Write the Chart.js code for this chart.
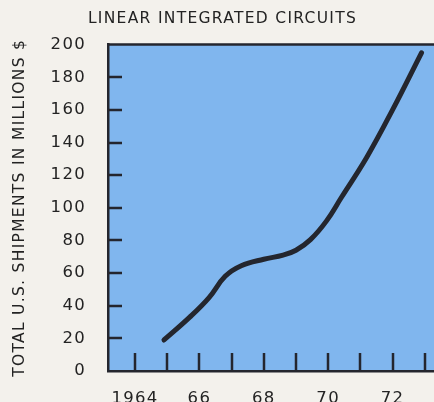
<!DOCTYPE html>
<html>
<head>
<meta charset="utf-8">
<title>Linear integrated circuits</title>
<script src="https://cdn.jsdelivr.net/npm/chart.js@4.4.1/dist/chart.umd.min.js"></script>
<style>
  html, body { margin: 0; padding: 0; background: #f3f1ec; overflow: hidden; }
  #wrap { width: 434px; height: 402px; overflow: hidden; }
</style>
</head>
<body>
<div id="wrap"><canvas id="chart" width="470" height="402"></canvas></div>
<script>
// shipments curve (year, $ millions)
const years     = [1964.9, 1965.7, 1966.3, 1966.8, 1967.3, 1968.0, 1968.6, 1969.0, 1969.45, 1969.95, 1970.4, 1971.2, 1972.0, 1972.9];
const shipments = [19,     33,     45,     58,     64.5,   68.5,   71,     74,     80.5,    92,      106,    131,    160,    195];
const yearTicks = [1964, 1965, 1966, 1967, 1968, 1969, 1970, 1971, 1972, 1973];
const yTicks    = [0, 20, 40, 60, 80, 100, 120, 140, 160, 180, 200];

const ink = "#24262e";
const text = "#232323";
const plotBlue = "#80b6ee";
const font = "'DejaVu Sans', sans-serif";

// wide lettering for every label on the chart
const spacing = {
  id: "spacing",
  beforeUpdate(chart) { chart.ctx.letterSpacing = "1.3px"; },
  beforeDraw(chart) { chart.ctx.letterSpacing = "1.3px"; }
};

// blue panel, top rule and the short inward tick marks
const frame = {
  id: "frame",
  beforeDraw(chart) {
    const { ctx, chartArea: a } = chart;
    ctx.save();
    ctx.fillStyle = plotBlue;
    ctx.fillRect(a.left, a.top, a.right - a.left, a.bottom - a.top);
    ctx.restore();
  },
  beforeDatasetsDraw(chart) {
    const { ctx, chartArea: a, scales: { x, y } } = chart;
    ctx.save();
    ctx.strokeStyle = ink;
    ctx.lineWidth = 2.5;
    ctx.beginPath();
    y.ticks.forEach(t => {
      if (t.value <= 0 || t.value >= 200) return;
      const py = Math.round(y.getPixelForValue(t.value));
      ctx.moveTo(a.left, py); ctx.lineTo(a.left + 14, py);
    });
    x.ticks.forEach(t => {
      const px = Math.round(x.getPixelForValue(t.value));
      ctx.moveTo(px, a.bottom); ctx.lineTo(px, a.bottom - 18);
    });
    ctx.moveTo(a.left, a.top); ctx.lineTo(a.right, a.top);
    ctx.stroke();
    ctx.restore();
  }
};

new Chart(document.getElementById("chart"), {
  type: "line",
  data: {
    datasets: [{
      data: years.map((yr, i) => ({ x: yr, y: shipments[i] })),
      borderColor: ink,
      borderWidth: 5,
      borderCapStyle: "round",
      borderJoinStyle: "round",
      tension: 0.4,
      pointRadius: 0,
      fill: false
    }]
  },
  options: {
    responsive: false,
    animation: false,
    layout: { padding: { left: 0, right: 25, top: 0, bottom: 0 } },
    plugins: {
      legend: { display: false },
      tooltip: { enabled: false },
      title: {
        display: true,
        text: "LINEAR INTEGRATED CIRCUITS",
        color: text,
        font: { family: font, size: 15.5, weight: "normal" },
        padding: { top: 10, bottom: 16 }
      }
    },
    scales: {
      x: {
        type: "linear",
        min: 1963.16,
        max: 1973.63,
        afterFit: s => { s.height = 31; },
        afterBuildTicks: s => { s.ticks = yearTicks.map(v => ({ value: v })); },
        grid: { display: false },
        border: { display: true, color: ink, width: 2.5 },
        ticks: {
          autoSkip: false,
          maxRotation: 0,
          padding: 10,
          color: text,
          font: { family: font, size: 16.5 },
          callback: v => v % 2 !== 0 ? "" : (v === 1964 ? "1964" : String(v).slice(2))
        }
      },
      y: {
        min: 0,
        max: 200,
        afterFit: s => { s.width = 108; },
        afterBuildTicks: s => { s.ticks = yTicks.map(v => ({ value: v })); },
        grid: { display: false },
        border: { display: true, color: ink, width: 2.5 },
        ticks: { padding: 14, color: text, font: { family: font, size: 16.5 } },
        title: {
          display: true,
          text: "TOTAL U.S. SHIPMENTS IN MILLIONS $",
          color: text,
          font: { family: font, size: 15.5 },
          padding: { top: 11, bottom: 0 }
        }
      }
    }
  },
  plugins: [spacing, frame]
});
</script>
</body>
</html>
